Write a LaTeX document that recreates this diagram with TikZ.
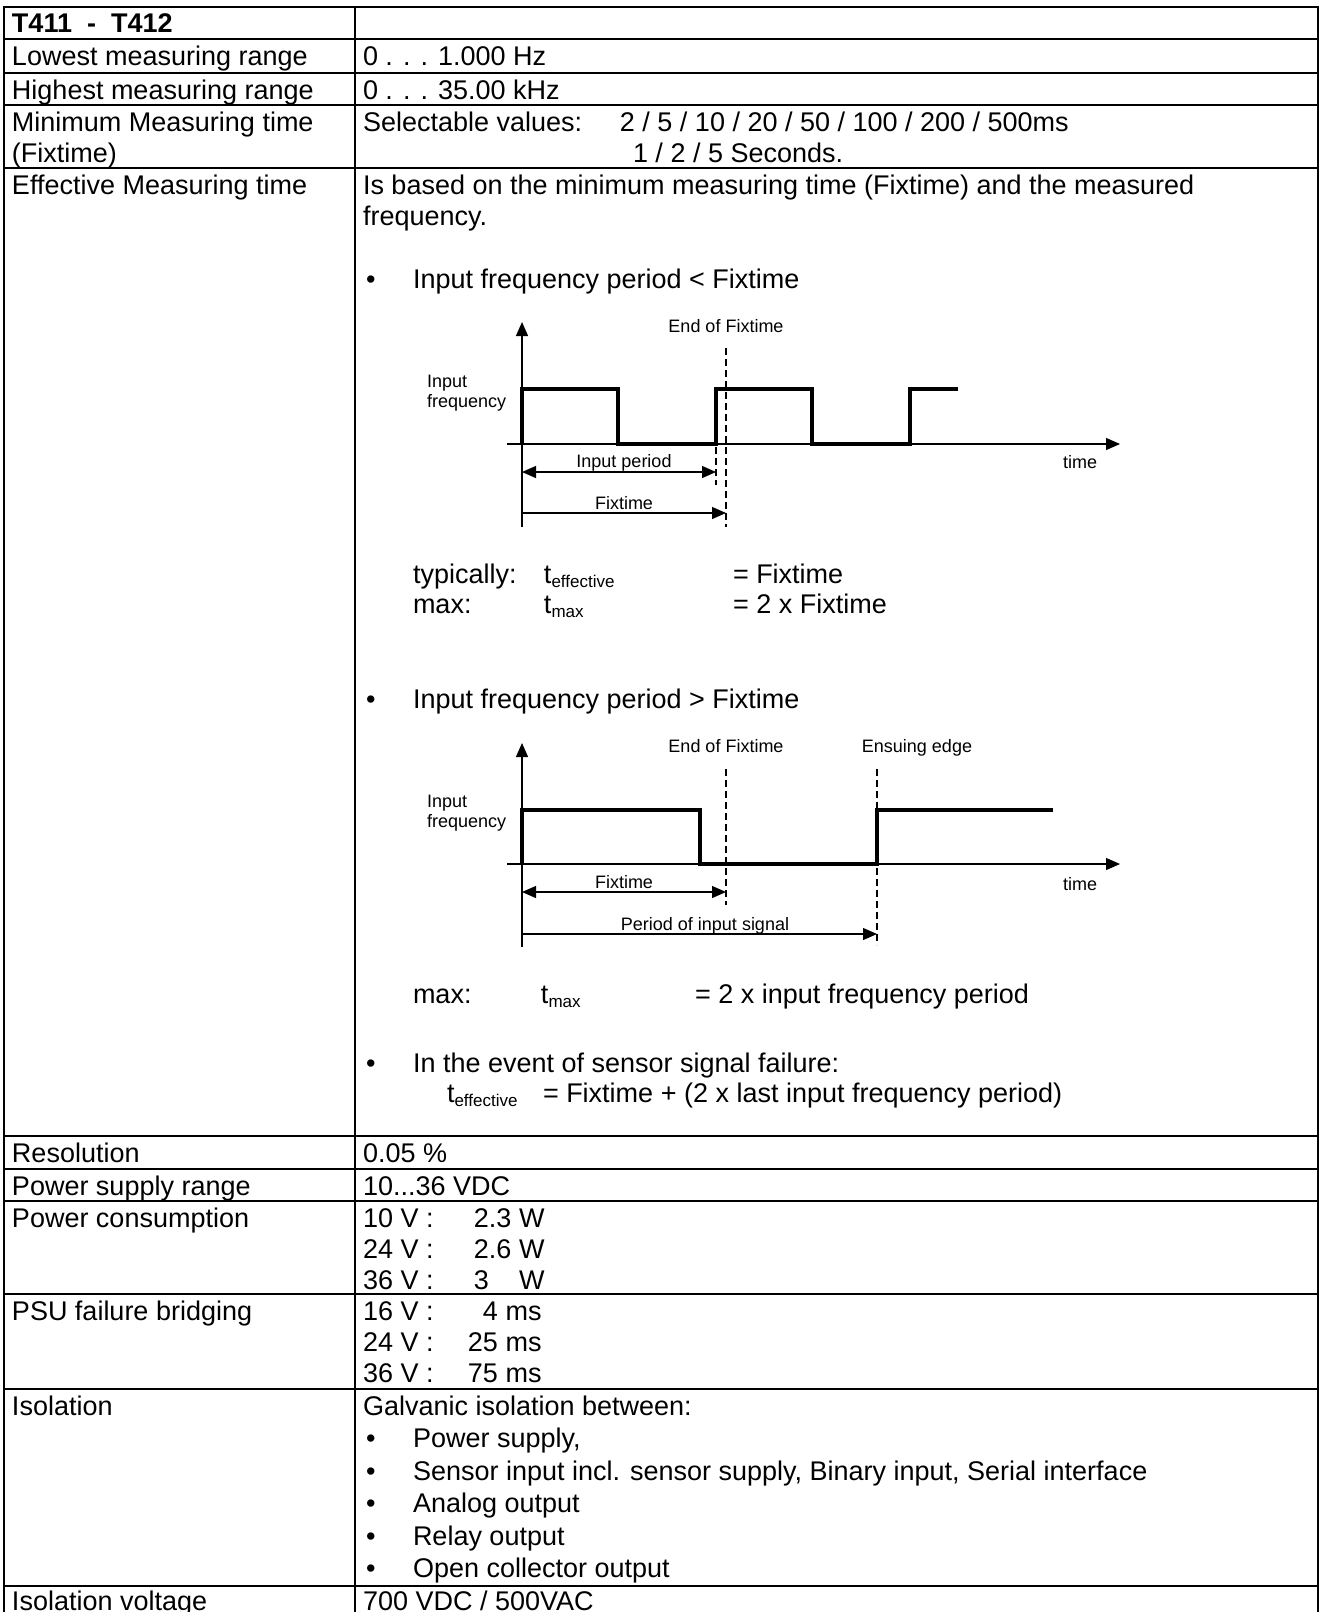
\documentclass[tikz,border=0pt]{standalone}
\usepackage{fontspec}
\setmainfont{Liberation Sans}
\usetikzlibrary{arrows.meta}

\newcommand{\tsub}[1]{t\raisebox{-4pt}{\fontsize{17}{17}\selectfont #1}}

\begin{document}
\begin{tikzpicture}[x=1pt,y=-1pt,
	tabline/.style={line width=2.4pt,line cap=rect},
	txt/.style={anchor=base west,inner sep=0,outer sep=0,font=\fontsize{27}{31}\selectfont},
	small/.style={anchor=base,inner sep=0,outer sep=0,font=\fontsize{18}{20}\selectfont},
	sig/.style={line width=4.5pt},
	axln/.style={line width=1.2pt},
	dashln/.style={line width=1.1pt,dash pattern=on 7pt off 4pt},
	onearr/.style={-{Triangle[length=14pt,width=12pt]}},
	twoarr/.style={{Triangle[length=14pt,width=12pt]}-{Triangle[length=14pt,width=12pt]}}]
	\useasboundingbox (0,0) rectangle (1322,1612);
	\clip (0,0) rectangle (1322,1612);
	% table grid
	\foreach \y in {7,39,73,105,168,1136,1169,1201,1294,1389,1586}
		\draw[tabline] (4,\y) -- (1318,\y);
	\foreach \x in {4,355,1318}
		\draw[tabline] (\x,7) -- (\x,1630);
	% left column
	\node[txt] (head) at (12,32) {\bfseries T411~~-~~T412};
	\node[txt] (low) at (12,65) {Lowest measuring range};
	\node[txt] (high) at (12,99) {Highest measuring range};
	\node[txt] (mint) at (12,131) {Minimum Measuring time};
	\node[txt] (mintb) at (12,162) {(Fixtime)};
	\node[txt] (eff) at (12,194) {Effective Measuring time};
	\node[txt] (res) at (12,1162) {Resolution};
	\node[txt] (psr) at (12,1195) {Power supply range};
	\node[txt] (pc) at (12,1227) {Power consumption};
	\node[txt] (psu) at (12,1320) {PSU failure bridging};
	\node[txt] (iso) at (12,1415) {Isolation};
	\node[txt] (isov) at (12,1610) {Isolation voltage};
	% right column
	\node[txt] (lowv) at (363,65) {0 . . . 1.000 Hz};
	\node[txt] (highv) at (363,99) {0 . . . 35.00 kHz};
	\node[txt] (mintv) at (363,131) {\makebox[257pt][l]{Selectable values:}2 / 5 / 10 / 20 / 50 / 100 / 200 / 500ms};
	\node[txt] (mintw) at (633,162) {1 / 2 / 5 Seconds.};
	\node[txt] (effa) at (363,194) {Is based on the minimum measuring time (Fixtime) and the measured};
	\node[txt] (effb) at (363,225) {frequency.};
	\node[txt] (b1) at (366,288) {\textbullet};
	\node[txt] (c1) at (413,288) {Input frequency period < Fixtime};
	\node[txt] (typ) at (413,583) {\makebox[131pt][l]{typically:}\makebox[189pt][l]{\tsub{effective}}= Fixtime};
	\node[txt] (mx1) at (413,613) {\makebox[131pt][l]{max:}\makebox[189pt][l]{\tsub{max}}= 2 x Fixtime};
	\node[txt] (b2) at (366,708) {\textbullet};
	\node[txt] (c2) at (413,708) {Input frequency period > Fixtime};
	\node[txt] (mx2) at (413,1003) {\makebox[128pt][l]{max:}\makebox[154pt][l]{\tsub{max}}= 2 x input frequency period};
	\node[txt] (b3) at (366,1072) {\textbullet};
	\node[txt] (c3) at (413,1072) {In the event of sensor signal failure:};
	\node[txt] (c3b) at (447,1102) {\makebox[96pt][l]{\tsub{effective}}= Fixtime + (2 x last input frequency period)};
	\node[txt] (resv) at (363,1162) {0.05 \%};
	\node[txt] (psrv) at (363,1195) {10...36 VDC};
	\node[txt] (pca) at (363,1227) {\makebox[111pt][l]{10 V :}2.3 W};
	\node[txt] (pcb) at (363,1258) {\makebox[111pt][l]{24 V :}2.6 W};
	\node[txt] (pcc) at (363,1289) {\makebox[111pt][l]{36 V :}3\phantom{.3} W};
	\node[txt] (psua) at (363,1320) {\makebox[105pt][l]{16 V :}\phantom{2}4 ms};
	\node[txt] (psub) at (363,1351) {\makebox[105pt][l]{24 V :}25 ms};
	\node[txt] (psuc) at (363,1382) {\makebox[105pt][l]{36 V :}75 ms};
	\node[txt] (isoa) at (363,1415) {Galvanic isolation between:};
	\foreach \t [count=\i] in {Power supply{,},
		Sensor input incl. sensor supply{,} Binary input{,} Serial interface,
		Analog output,Relay output,Open collector output}{
		\node[txt] (ib\i) at (366,1415+32.5*\i) {\textbullet};
		\node[txt] (it\i) at (413,1415+32.5*\i) {\t};
	}
	\node[txt] (isovv) at (363,1610) {700 VDC / 500VAC};

	% diagram 1: period < Fixtime
	\coordinate (yt1) at (522,322);
	\coordinate (yb1) at (522,527);
	\coordinate (xl1) at (507,444);
	\coordinate (xr1) at (1120,444);
	\coordinate (fe1t) at (726,348);
	\coordinate (fe1b) at (726,527);
	\coordinate (ip1t) at (716,447);
	\coordinate (ip1b) at (716,485);
	\coordinate (ipa) at (522,472);
	\coordinate (ipb) at (716,472);
	\coordinate (fta) at (522,513);
	\coordinate (ftb) at (726,513);
	\draw[axln,onearr] (yb1) -- (yt1);
	\draw[axln,onearr] (xl1) -- (xr1);
	\draw[dashln] (fe1t) -- (fe1b);
	\draw[dashln] (ip1t) -- (ip1b);
	\draw[sig] (522,444) -- (522,389) -- (618,389) -- (618,444) -- (716,444) -- (716,389)
		-- (812,389) -- (812,444) -- (910,444) -- (910,389) -- (958,389);
	\draw[axln,twoarr] (ipa) -- (ipb);
	\draw[axln,onearr] (fta) -- (ftb);
	\node[small] (end1) at (726,332) {End of Fixtime};
	\node[small,anchor=base west] (inf1) at (427,387) {Input};
	\node[small,anchor=base west] (inf1b) at (427,407) {frequency};
	\node[small] (ipl) at (624,467) {Input period};
	\node[small] (ftl) at (624,509) {Fixtime};
	\node[small] (tm1) at (1080,468) {time};

	% diagram 2: period > Fixtime
	\coordinate (yt2) at (522,743);
	\coordinate (yb2) at (522,947);
	\coordinate (xl2) at (507,864);
	\coordinate (xr2) at (1120,864);
	\coordinate (fe2t) at (726,769);
	\coordinate (fe2b) at (726,905);
	\coordinate (en2t) at (877,769);
	\coordinate (en2b) at (877,945);
	\coordinate (f2a) at (522,892);
	\coordinate (f2b) at (726,892);
	\coordinate (pa) at (522,934);
	\coordinate (pb) at (877,934);
	\draw[axln,onearr] (yb2) -- (yt2);
	\draw[axln,onearr] (xl2) -- (xr2);
	\draw[dashln] (fe2t) -- (fe2b);
	\draw[dashln] (en2t) -- (en2b);
	\draw[sig] (522,864) -- (522,810) -- (700,810) -- (700,864) -- (877,864) -- (877,810) -- (1053,810);
	\draw[axln,twoarr] (f2a) -- (f2b);
	\draw[axln,onearr] (pa) -- (pb);
	\node[small] (end2) at (726,752) {End of Fixtime};
	\node[small] (ens2) at (917,752) {Ensuing edge};
	\node[small,anchor=base west] (inf2) at (427,807) {Input};
	\node[small,anchor=base west] (inf2b) at (427,827) {frequency};
	\node[small] (ft2l) at (624,888) {Fixtime};
	\node[small] (pl) at (705,930) {Period of input signal};
	\node[small] (tm2) at (1080,890) {time};
\end{tikzpicture}
\end{document}
